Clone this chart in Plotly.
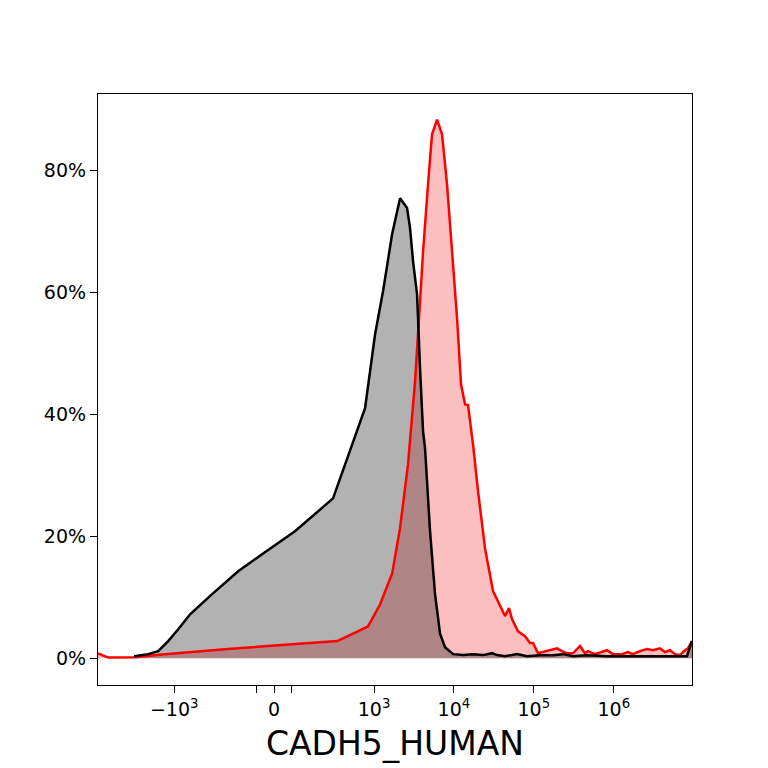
import numpy as np
import plotly.graph_objects as go

# logicle-like (arcsinh) display scale for the fluorescence axis
C = 113.0


def tf(v):
    return np.arcsinh(np.asarray(v, dtype=float) / C) / np.log(10)


# stained sample (red)
red_x = [-9000, -6700, -3100, -1420, -200, 340, 840, 1190, 1690, 2120,
         2670, 3270, 3560, 4120, 4750, 5330, 6160, 7110, 8210, 9480,
         10960, 12290, 13800, 15030, 17360, 20050, 24530, 30870, 40000, 43600,
         48900, 53300, 63400, 77500, 89550, 97600, 112700, 146100, 194800, 224900,
         259700, 308700, 377600, 436100, 475400, 581400, 821500, 976300, 1.265e6, 1.503e6,
         1.736e6, 2.123e6, 2.597e6, 3.087e6, 3.776e6, 4.362e6, 5.036e6, 5.815e6, 6.717e6, 7.757e6,
         8.45e6, 9.5e6]
red_y = [0.8, 0.1, 0.15, 0.6, 1.5, 2.8, 5.2, 8.8, 13.9, 21.3,
         31.8, 45.4, 53.1, 66.7, 77.7, 85.9, 88.3, 85.9, 77.7, 66.7,
         55.7, 44.9, 41.6, 41.5, 35.0, 27.4, 18.0, 11.0, 7.7, 6.9,
         8.2, 6.4, 4.4, 3.6, 2.5, 2.5, 0.8, 1.15, 1.6, 1.15,
         0.8, 0.8, 2.0, 0.8, 1.15, 0.66, 1.3, 0.66, 0.66, 1.0,
         0.66, 1.15, 1.5, 1.3, 1.6, 1.0, 1.3, 0.66, 0.5, 1.3,
         1.6, 2.8]

# control (black / gray)
ctrl_x = [-3180, -2120, -1590, -1190, -890, -630, -327, -139, -40, 72,
          298, 771, 1031, 1300, 1686, 2123, 2597, 2831,
          3085, 3462, 3775, 4117, 4360, 5035, 5815, 6715, 7755, 9766,
          13020, 17360, 23150, 30000, 34630, 43600, 61580, 82150, 119400, 173600,
          231500, 308700, 461700, 821500, 2.123e6, 5.487e6, 8.2e6, 9.2e6, 9.5e6]
ctrl_y = [0.33, 0.66, 1.15, 2.8, 4.75, 7.2, 10.5, 14.25, 17.05, 20.8,
          26.2, 41.0, 53.1, 60.2, 69.5, 75.4, 73.8, 70.5,
          65.1, 59.7, 47.5, 37.2, 34.4, 20.8, 10.5, 4.0, 1.8, 0.66,
          0.5, 0.66, 0.5, 0.82, 0.5, 0.33, 0.66, 0.33, 0.49, 0.49,
          0.66, 0.33, 0.49, 0.33, 0.33, 0.33, 0.33, 2.3, 2.8]

tick_vals = [-1e3, 0, 1e3, 1e4, 1e5, 1e6]
tick_text = ['\u221210<sup>3</sup>', '0', '10<sup>3</sup>', '10<sup>4</sup>',
             '10<sup>5</sup>', '10<sup>6</sup>']
minor_vals = [-60, 60]
y_ticks = [0, 20, 40, 60, 80]
y_text = ['%d%%' % v for v in y_ticks]

fig = go.Figure()
fig.add_trace(go.Scatter(x=tf(red_x), y=red_y, mode='lines', fill='tozeroy',
                         fillcolor='rgba(245,0,0,0.25)', line=dict(width=0),
                         hoverinfo='skip'))
fig.add_trace(go.Scatter(x=tf(ctrl_x), y=ctrl_y, mode='lines', fill='tozeroy',
                         fillcolor='rgba(0,0,0,0.3)', line=dict(width=0),
                         hoverinfo='skip'))
fig.add_trace(go.Scatter(x=tf(red_x), y=red_y, mode='lines',
                         line=dict(color='red', width=2.5)))
fig.add_trace(go.Scatter(x=tf(ctrl_x), y=ctrl_y, mode='lines',
                         line=dict(color='black', width=2.5)))

axis_style = dict(showline=True, linecolor='black', linewidth=1.3, mirror=True,
                  showgrid=False, zeroline=False, ticks='outside',
                  ticklen=7, tickwidth=1.3, tickcolor='black')

fig.update_xaxes(range=[float(tf(-9000)), float(tf(9.5e6))],
                 tickmode='array', tickvals=tf(tick_vals).tolist(), ticktext=tick_text,
                 minor=dict(tickmode='array', tickvals=tf(minor_vals).tolist(),
                            ticks='outside', ticklen=7, tickwidth=1.3, tickcolor='black'),
                 title=dict(text='CADH5_HUMAN', font=dict(size=33), standoff=12),
                 **axis_style)
fig.update_yaxes(range=[-4.4, 92.5], tickmode='array', tickvals=y_ticks,
                 ticktext=y_text, **axis_style)

fig.update_layout(width=768, height=768, showlegend=False,
                  plot_bgcolor='white', paper_bgcolor='white',
                  margin=dict(l=90, r=84, t=86, b=91),
                  font=dict(family='DejaVu Sans', size=19, color='black'))

fig.write_html('out.html')
